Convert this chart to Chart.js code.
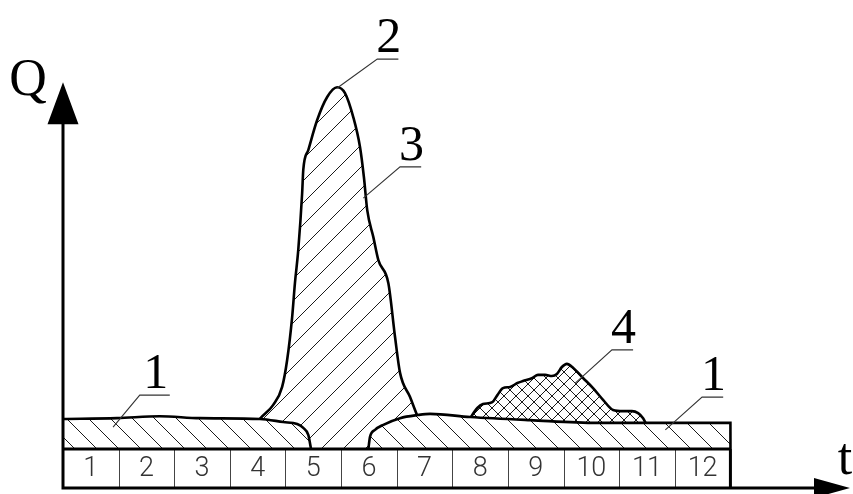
<!DOCTYPE html>
<html>

<head>
  <meta charset="UTF-8" />
  <title>Hydrograph</title>
  <script src="https://cdn.jsdelivr.net/npm/chart.js@4.4.1/dist/chart.umd.min.js"></script>
  <style>
    body { margin: 0; background: #fff; }
  </style>
</head>

<body>
  <canvas id="chart" width="853" height="494"></canvas>
  <script>

    // months of the year, shown in the strip under the flow
    const months = ['1', '2', '3', '4', '5', '6', '7', '8', '9', '10', '11', '12'];

    // base flow (1), left part: t in months, Q
    const baseLeftT = [0, 0.97, 1.74, 2.46, 3.54, 3.96, 4.21, 4.32, 4.41, 4.46];
    const baseLeftQ = [7.7, 7.9, 8.4, 7.9, 7.7, 6.9, 6.4, 5.4, 3.6, 0];

    // base flow (1), right part
    const baseRightT = [5.49, 5.52, 5.61, 5.76, 6.06, 6.38, 6.6, 7.32, 8.4, 9.6, 10.5, 12, 12.001];
    const baseRightQ = [0, 3.1, 4.9, 6.2, 7.9, 8.7, 9.0, 8.2, 7.4, 6.7, 6.7, 6.7, 0];

    // spring flood (2, 3)
    const floodT = [3.48, 3.54, 3.78, 3.94, 4.03, 4.12, 4.17, 4.23, 4.3, 4.32, 4.41, 4.57, 4.75, 4.93,
      5.07, 5.22, 5.34, 5.41, 5.47, 5.58, 5.67, 5.85, 5.97, 6.06, 6.24, 6.38, 6.46];
    const floodQ = [6.5, 7.7, 11.3, 15.9, 22.8, 33.8, 42.5, 51.0, 65.6, 71.5, 76.6, 84.3, 90.2, 92.7,
      91.2, 85.0, 77.4, 69.7, 61.2, 54.3, 48.4, 42.5, 28.7, 19.5, 13.3, 8.2, 6.0];

    // rain floods (4)
    const rainT = [7.3, 7.45, 7.55, 7.72, 7.81, 7.91, 8.04, 8.17, 8.27, 8.44, 8.54, 8.67, 8.79, 8.88,
      8.97, 9.06, 9.17, 9.35, 9.53, 9.71, 9.89, 10.07, 10.23, 10.34, 10.43, 10.5];
    const rainQ = [7.5, 10.5, 11.5, 12.0, 13.8, 15.6, 15.9, 16.9, 17.4, 18.2, 19.0, 19.0, 18.7, 19.2,
      21.0, 21.8, 20.8, 18.2, 15.6, 12.6, 10.0, 9.7, 9.7, 9.2, 7.9, 6.0];

    // callouts: text, point on the curve, knee of the leader, end of the shelf
    const callouts = [
      { text: '2', tip: [4.93, 92.5], knee: [5.65, 99.9], end: 6.03 },
      { text: '3', tip: [5.4, 64.3], knee: [6.06, 72.3], end: 6.44 },
      { text: '1', tip: [0.9, 5.6], knee: [1.38, 13.8], end: 1.92 },
      { text: '4', tip: [9.21, 16.9], knee: [9.87, 25.4], end: 10.25 },
      { text: '1', tip: [10.83, 4.9], knee: [11.49, 13.3], end: 11.87 }
    ];

    const axisTitles = { y: 'Q', x: 't' };
    const tMax = 14.15, qMin = -10, qMax = 112.5, qArrow = 94;

    const zip = (ts, qs) => ts.map((t, i) => ({ x: t, y: qs[i] }));

    function hatch(step, dirs) {
      const c = document.createElement('canvas');
      c.width = c.height = step;
      const g = c.getContext('2d');
      g.fillStyle = '#fff';
      g.fillRect(0, 0, step, step);
      g.strokeStyle = '#1a1a1a';
      g.lineWidth = 1;
      dirs.forEach(d => {
        g.beginPath();
        [-step, 0, step].forEach(o => {
          if (d === '/') { g.moveTo(o, step); g.lineTo(o + step, 0); }
          else { g.moveTo(o, 0); g.lineTo(o + step, step); }
        });
        g.stroke();
      });
      return g.createPattern(c, 'repeat');
    }

    const shape = (data, bg, order) => ({
      data, order,
      backgroundColor: bg,
      borderColor: '#000',
      borderWidth: 2.6,
      fill: 'origin',
      cubicInterpolationMode: 'monotone',
      pointRadius: 0
    });

    // month strip under the flow
    const strip = {
      id: 'strip',
      afterDatasetsDraw(chart) {
        const { ctx, scales: { x, y } } = chart;
        const top = y.getPixelForValue(0), bot = y.getPixelForValue(qMin);
        ctx.save();
        ctx.strokeStyle = '#444';
        ctx.lineWidth = 1;
        for (let i = 1; i < months.length; i++) {
          const px = Math.round(x.getPixelForValue(i)) + 0.5;
          ctx.beginPath(); ctx.moveTo(px, top); ctx.lineTo(px, bot); ctx.stroke();
        }
        ctx.strokeStyle = '#000';
        ctx.lineWidth = 3;
        ctx.beginPath();
        ctx.moveTo(x.getPixelForValue(0), top);
        ctx.lineTo(x.getPixelForValue(months.length), top);
        ctx.moveTo(x.getPixelForValue(months.length), top);
        ctx.lineTo(x.getPixelForValue(months.length), bot);
        ctx.stroke();
        ctx.fillStyle = '#333';
        ctx.font = '300 27px Roboto';
        ctx.textAlign = 'center';
        ctx.textBaseline = 'middle';
        months.forEach((m, i) => {
          ctx.fillText(m, x.getPixelForValue(i + 0.5), y.getPixelForValue(qMin / 2) + 1);
        });
        ctx.restore();
      }
    };

    // axes with arrow heads
    const axes = {
      id: 'axes',
      afterDatasetsDraw(chart) {
        const { ctx, scales: { x, y } } = chart;
        const x0 = x.getPixelForValue(0), y0 = y.getPixelForValue(qMin);
        const yTip = y.getPixelForValue(qArrow), xTip = x.getPixelForValue(tMax);
        ctx.save();
        ctx.strokeStyle = '#000';
        ctx.fillStyle = '#000';
        ctx.lineWidth = 3;
        ctx.beginPath();
        ctx.moveTo(x0, y0); ctx.lineTo(x0, yTip + 30);
        ctx.moveTo(x0 - 1.5, y0); ctx.lineTo(xTip - 30, y0);
        ctx.stroke();
        ctx.beginPath();
        ctx.moveTo(x0, yTip); ctx.lineTo(x0 - 15.5, yTip + 42); ctx.lineTo(x0 + 15.5, yTip + 42);
        ctx.closePath();
        ctx.moveTo(xTip, y0); ctx.lineTo(xTip - 36, y0 - 10); ctx.lineTo(xTip - 36, y0 + 10);
        ctx.closePath();
        ctx.fill();
        ctx.font = '52px "Liberation Serif"';
        ctx.textAlign = 'center';
        ctx.fillText(axisTitles.y, x.getPixelForValue(-0.63), y.getPixelForValue(90.8));
        ctx.fillText(axisTitles.x, x.getPixelForValue(14.06), y.getPixelForValue(-6.5));
        ctx.restore();
      }
    };

    // numbered leaders
    const leaders = {
      id: 'leaders',
      afterDatasetsDraw(chart) {
        const { ctx, scales: { x, y } } = chart;
        ctx.save();
        ctx.strokeStyle = '#333';
        ctx.lineWidth = 1.1;
        ctx.fillStyle = '#000';
        ctx.font = '50px "Liberation Serif"';
        ctx.textAlign = 'center';
        callouts.forEach(c => {
          const kx = x.getPixelForValue(c.knee[0]), ky = y.getPixelForValue(c.knee[1]);
          const ex = x.getPixelForValue(c.end);
          ctx.beginPath();
          ctx.moveTo(x.getPixelForValue(c.tip[0]), y.getPixelForValue(c.tip[1]));
          ctx.lineTo(kx, ky);
          ctx.lineTo(ex, ky);
          ctx.stroke();
          ctx.fillText(c.text, (kx + ex) / 2 + 1, ky - 7);
        });
        ctx.restore();
      }
    };

    const ctx = document.getElementById('chart').getContext('2d');
    new Chart(ctx, {
      type: 'line',
      data: {
        datasets: [
          shape(zip(baseLeftT, baseLeftQ), hatch(22, ['\\']), 1),
          shape(zip(baseRightT, baseRightQ), hatch(22, ['\\']), 1),
          shape(zip(rainT, rainQ), hatch(12, ['/', '\\']), 2),
          shape(zip(floodT, floodQ), hatch(22, ['/']), 3)
        ]
      },
      options: {
        responsive: false,
        animation: false,
        layout: { padding: { left: 63, right: 3, top: 10, bottom: 6 } },
        scales: {
          x: { type: 'linear', min: 0, max: tMax, display: false },
          y: { type: 'linear', min: qMin, max: qMax, display: false }
        },
        plugins: { legend: { display: false }, tooltip: { enabled: false } }
      },
      plugins: [strip, axes, leaders]
    });
  </script>
</body>

</html>
